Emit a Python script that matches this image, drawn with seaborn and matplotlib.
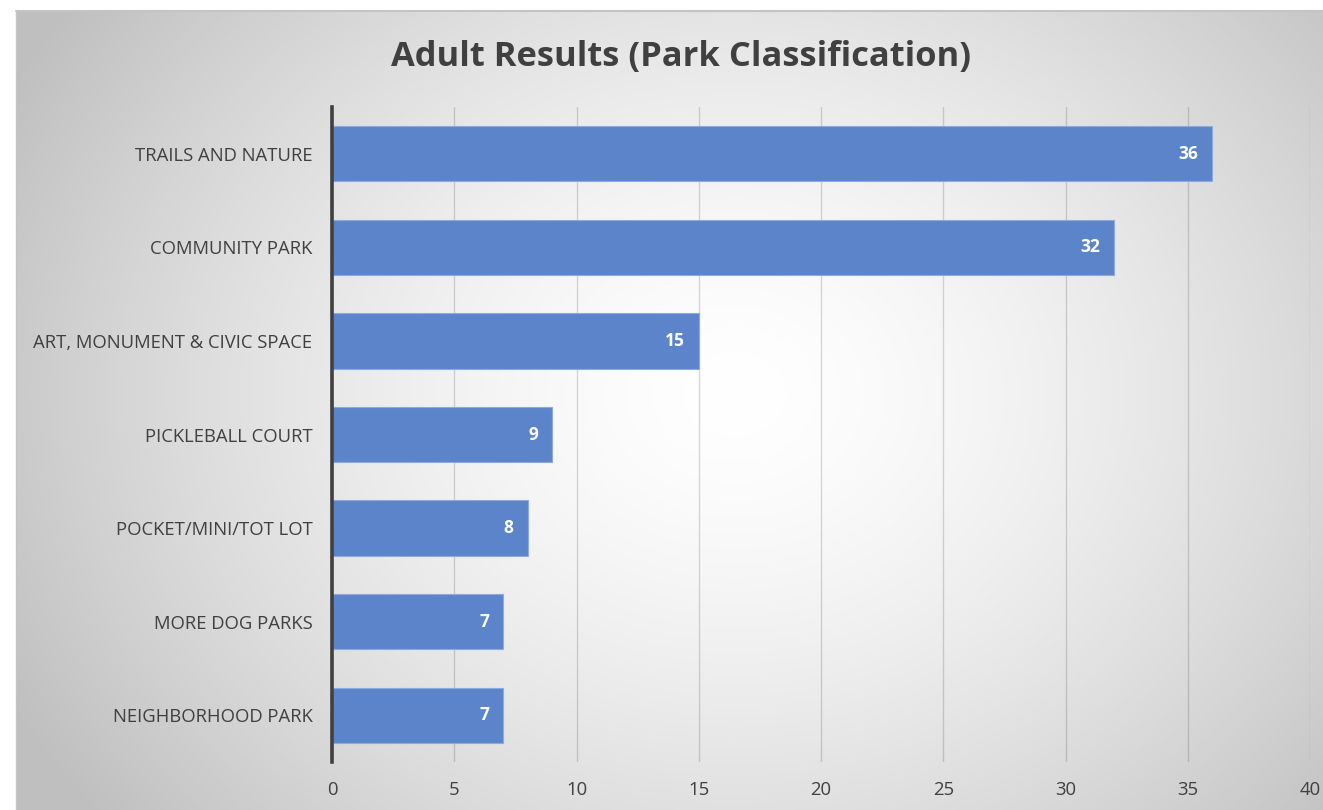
import numpy as np
import pandas as pd
import matplotlib
matplotlib.use("Agg")
import matplotlib.pyplot as plt
import seaborn as sns

# Survey counts by park classification
categories = [
    "TRAILS AND NATURE",
    "COMMUNITY PARK",
    "ART, MONUMENT & CIVIC SPACE",
    "PICKLEBALL COURT",
    "POCKET/MINI/TOT LOT",
    "MORE DOG PARKS",
    "NEIGHBORHOOD PARK",
]
counts = [36, 32, 15, 9, 8, 7, 7]
x_ticks = [0, 5, 10, 15, 20, 25, 30, 35, 40]
title = "Adult Results (Park Classification)"

df = pd.DataFrame({"category": categories, "count": counts})

sns.set_theme(style="white")
plt.rcParams["font.family"] = ["Open Sans", "DejaVu Sans"]

W, H = 1323, 810
fig = plt.figure(figsize=(W / 100, H / 100), dpi=100, facecolor="white")

# Chart-area panel with a radial grey-to-white gradient
bg_left, bg_top = 16 / W, 11 / H
bg = fig.add_axes([bg_left, 0, 1 - bg_left, 1 - bg_top], zorder=-2)
nx, ny = 660, 400
gx = np.linspace(0, 1, nx)
gy = np.linspace(0, 1, ny)
XX, YY = np.meshgrid(gx, gy)
cx, cy = 0.55, 0.52
r = np.sqrt(((XX - cx) * 1.15) ** 2 + ((YY - cy) * 0.85) ** 2)
r = np.clip(r / 0.72, 0, 1)
shade = 1.0 - 0.25 * r ** 1.5
img = np.dstack([shade, shade, shade])
bg.imshow(img, extent=[0, 1, 0, 1], aspect="auto", origin="lower")
bg.set_xlim(0, 1)
bg.set_ylim(0, 1)
bg.axis("off")
fig.add_artist(plt.Line2D([bg_left, 1], [1 - bg_top, 1 - bg_top],
                          transform=fig.transFigure, color="#c4c4c4", lw=1.5))
fig.add_artist(plt.Line2D([bg_left, bg_left], [0, 1 - bg_top],
                          transform=fig.transFigure, color="#c4c4c4", lw=1.0))

# Main plotting area
left, right = 332 / W, 1310 / W
bottom, top = 1 - 762 / H, 1 - 107 / H
ax = fig.add_axes([left, bottom, right - left, top - bottom])
ax.patch.set_alpha(0)

sns.barplot(data=df, x="count", y="category", orient="h", color="#5b84cb",
            width=0.59, saturation=1, edgecolor="#8caade", linewidth=0.8,
            ax=ax, zorder=3)

ax.set_xlim(0, 40)
ax.set_ylim(len(categories) - 0.5, -0.5)
ax.set_xticks(x_ticks)
ax.set_xticklabels([str(t) for t in x_ticks])
ax.grid(axis="x", color="black", alpha=0.15, lw=1.0, zorder=0)
ax.grid(axis="y", visible=False)
ax.set_axisbelow(True)
for s in ["top", "right", "bottom"]:
    ax.spines[s].set_visible(False)
ax.spines["left"].set_color("#404040")
ax.spines["left"].set_linewidth(2.6)
ax.spines["left"].set_zorder(5)
ax.tick_params(axis="both", length=0, labelsize=13.3, colors="#404040")
ax.tick_params(axis="y", pad=14)
ax.tick_params(axis="x", pad=14)
ax.set_xlabel("")
ax.set_ylabel("")

# Value labels inside the bar ends
for i, v in enumerate(counts):
    ax.annotate(str(v), xy=(v, i), xytext=(-10, 0), textcoords="offset points",
                ha="right", va="center", color="white", fontsize=12.5,
                fontweight="bold", zorder=6)

fig.text(681 / W, 1 - 57 / H, title, ha="center", va="center",
         fontsize=24.8, fontweight="bold", color="#404040")

fig.savefig("out.png", dpi=100, facecolor="white")
